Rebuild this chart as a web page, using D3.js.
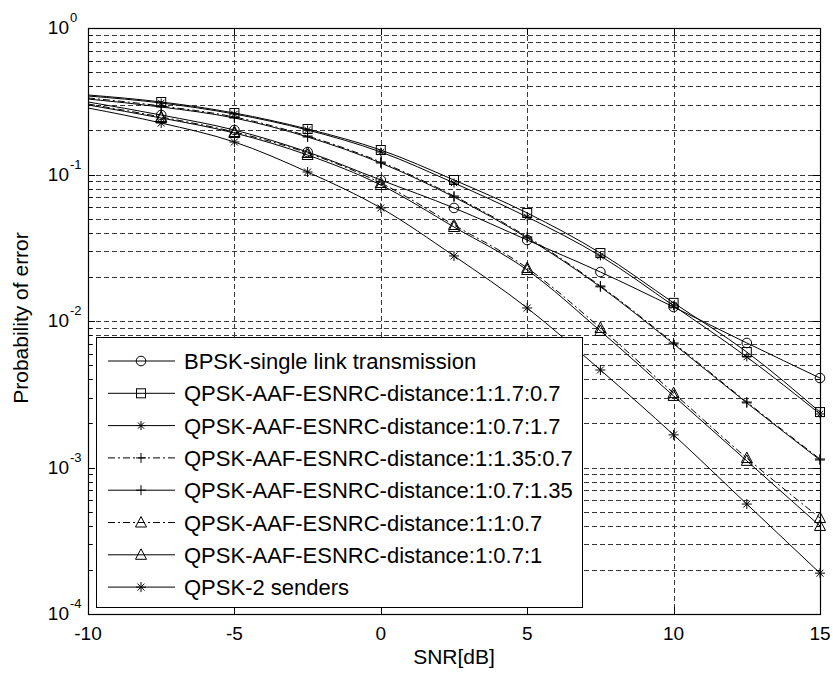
<!DOCTYPE html>
<html><head><meta charset="utf-8">
<script src="https://cdn.jsdelivr.net/npm/d3@7"></script>
<style>body{margin:0;background:#fff}</style>
</head><body><svg id="c" width="833" height="674"></svg>
<script>
// ---- data ----
const snr = [-10, -7.5, -5, -2.5, 0, 2.5, 5, 7.5, 10, 12.5, 15];
const bpskSingle   = [0.3126, 0.2547, 0.2012, 0.1424, 0.0917, 0.0591, 0.0357, 0.0216, 0.01246, 0.00708, 0.00408];
const aaf_1_17_07  = [0.349, 0.3126, 0.2629, 0.2044, 0.147, 0.0917, 0.0546, 0.0291, 0.0133, 0.00614, 0.00239];
const aaf_1_07_17  = [0.3435, 0.3077, 0.2588, 0.2012, 0.1424, 0.0875, 0.0513, 0.0278, 0.0127, 0.00568, 0.00232];
const aaf_1_135_07 = [0.333, 0.2935, 0.2469, 0.1831, 0.1217, 0.0713, 0.0375, 0.01734, 0.00708, 0.0028, 0.001143];
const aaf_1_07_135 = [0.3276, 0.2888, 0.2430, 0.1803, 0.1198, 0.0702, 0.0369, 0.0171, 0.00697, 0.00276, 0.001125];
const aaf_1_1_07   = [0.3029, 0.2469, 0.1950, 0.1402, 0.0875, 0.0452, 0.0230, 0.00896, 0.00322, 0.00116, 0.000452];
const aaf_1_07_1   = [0.2982, 0.2430, 0.1920, 0.1358, 0.0848, 0.0438, 0.0223, 0.00855, 0.00308, 0.00111, 0.000399];
const qpsk2Senders = [0.2844, 0.2246, 0.1667, 0.1040, 0.0591, 0.0278, 0.01227, 0.00463, 0.00167, 0.000563, 0.00019];

const seriesLabels = [
  "BPSK-single link transmission",
  "QPSK-AAF-ESNRC-distance:1:1.7:0.7",
  "QPSK-AAF-ESNRC-distance:1:0.7:1.7",
  "QPSK-AAF-ESNRC-distance:1:1.35:0.7",
  "QPSK-AAF-ESNRC-distance:1:0.7:1.35",
  "QPSK-AAF-ESNRC-distance:1:1:0.7",
  "QPSK-AAF-ESNRC-distance:1:0.7:1",
  "QPSK-2 senders"
];
const seriesValues = [bpskSingle, aaf_1_17_07, aaf_1_07_17, aaf_1_135_07, aaf_1_07_135, aaf_1_1_07, aaf_1_07_1, qpsk2Senders];
const seriesMarkers = ["circle", "square", "asterisk", "plus", "plus", "triangle", "triangle", "star"];
const seriesDash = [null, null, null, "7,3,2,3", null, "7,3,2,3", null, null];

const xTicks = [-10, -5, 0, 5, 10, 15];
const yTickExps = [0, -1, -2, -3, -4];
const xLabel = "SNR[dB]";
const yLabel = "Probability of error";

// ---- layout ----
const L = 88, R = 820, T = 28, B = 614;
const svg = d3.select("#c");
const x = d3.scaleLinear().domain([-10, 15]).range([L, R]);
const y = d3.scaleLog().domain([1e-4, 1]).range([B, T]);
const font = "Liberation Sans, Arial, sans-serif";

// grid
const gridCol = "#3a3a3a";
const minorVals = [];
for (let e = -4; e < 0; e++) for (let d = 1; d <= 9; d++) minorVals.push(d * Math.pow(10, e));
const grid = svg.append("g").attr("stroke", gridCol).attr("stroke-width", 1).attr("stroke-dasharray", "5,3");
grid.selectAll("line.h").data(minorVals.filter(v => v > 1e-4)).enter().append("line")
  .attr("x1", L).attr("x2", R).attr("y1", d => Math.round(y(d)) + 0.5).attr("y2", d => Math.round(y(d)) + 0.5);
grid.selectAll("line.v").data(xTicks.filter(t => t > -10 && t < 15)).enter().append("line")
  .attr("y1", T).attr("y2", B).attr("x1", d => Math.round(x(d)) + 0.5).attr("x2", d => Math.round(x(d)) + 0.5);

// ticks (inward, both sides)
const tk = svg.append("g").attr("stroke", "#000").attr("stroke-width", 1);
minorVals.forEach(v => {
  const yy = Math.round(y(v)) + 0.5;
  const len = (Math.abs(Math.log10(v) - Math.round(Math.log10(v))) < 1e-9) ? 7 : 4;
  tk.append("line").attr("x1", L).attr("x2", L + len).attr("y1", yy).attr("y2", yy);
  tk.append("line").attr("x1", R).attr("x2", R - len).attr("y1", yy).attr("y2", yy);
});
xTicks.forEach(t => {
  const xx = Math.round(x(t)) + 0.5;
  tk.append("line").attr("x1", xx).attr("x2", xx).attr("y1", B).attr("y2", B - 7);
  tk.append("line").attr("x1", xx).attr("x2", xx).attr("y1", T).attr("y2", T + 7);
});

// box
svg.append("rect").attr("x", L + 0.5).attr("y", T + 0.5).attr("width", R - L).attr("height", B - T)
  .attr("fill", "none").attr("stroke", "#000").attr("stroke-width", 1.2);

// tick labels
const xt = svg.append("g").attr("font-family", font).attr("font-size", 19).attr("fill", "#000");
xt.selectAll("text").data(xTicks).enter().append("text")
  .attr("x", d => x(d)).attr("y", 640).attr("text-anchor", "middle").text(d => d);
const yt = svg.append("g").attr("font-family", font).attr("fill", "#000");
yTickExps.forEach(e => {
  const yy = y(Math.pow(10, e));
  yt.append("text").attr("x", 69).attr("y", yy + 6).attr("text-anchor", "end").attr("font-size", 19).text("10");
  yt.append("text").attr("x", 70).attr("y", yy - 6).attr("text-anchor", "start").attr("font-size", 13).text(e);
});

// axis labels
svg.append("text").attr("x", (L + R) / 2).attr("y", 664).attr("text-anchor", "middle")
  .attr("font-family", font).attr("font-size", 21).text(xLabel);
svg.append("text").attr("transform", `translate(28,${(T + B) / 2 - 3}) rotate(-90)`).attr("text-anchor", "middle")
  .attr("font-family", font).attr("font-size", 21).text(yLabel);

// markers
function marker(g, type, cx, cy) {
  const s = g.append("g").attr("stroke", "#000").attr("stroke-width", 1).attr("fill", "none");
  if (type === "circle") s.append("circle").attr("cx", cx).attr("cy", cy).attr("r", 4.8);
  else if (type === "square") s.append("rect").attr("x", cx - 4.5).attr("y", cy - 4.5).attr("width", 9).attr("height", 9);
  else if (type === "triangle") s.append("path").attr("d", `M${cx},${cy - 6}L${cx + 5.5},${cy + 4.5}L${cx - 5.5},${cy + 4.5}Z`);
  else if (type === "plus") s.append("path").attr("d", `M${cx - 5},${cy}H${cx + 5}M${cx},${cy - 5}V${cy + 5}`);
  else if (type === "star" || type === "asterisk") {
    const r = type === "star" ? 5 : 4.5, q = r * 0.7;
    s.append("path").attr("d", `M${cx - r},${cy}H${cx + r}M${cx},${cy - r}V${cy + r}M${cx - q},${cy - q}L${cx + q},${cy + q}M${cx - q},${cy + q}L${cx + q},${cy - q}`);
  }
}

// curves
const line = d3.line().x(d => x(d[0])).y(d => y(d[1])).curve(d3.curveMonotoneX);
const plot = svg.append("g");
seriesValues.forEach((vals, i) => {
  const pts = snr.map((s, k) => [s, vals[k]]);
  plot.append("path").attr("d", line(pts)).attr("fill", "none").attr("stroke", "#000")
    .attr("stroke-width", 1).attr("stroke-dasharray", seriesDash[i]);
  pts.forEach((p, k) => { if (k > 0) marker(plot, seriesMarkers[i], x(p[0]), y(p[1])); });
});

// legend
const lg = svg.append("g");
lg.append("rect").attr("x", 96.5).attr("y", 337.5).attr("width", 486).attr("height", 270)
  .attr("fill", "#fff").attr("stroke", "#000").attr("stroke-width", 1);
seriesLabels.forEach((lab, i) => {
  const yy = 361 + i * 32.3;
  lg.append("line").attr("x1", 108).attr("x2", 175).attr("y1", yy).attr("y2", yy)
    .attr("stroke", "#000").attr("stroke-width", 1).attr("stroke-dasharray", seriesDash[i]);
  marker(lg, seriesMarkers[i], 141, yy);
  lg.append("text").attr("x", 184).attr("y", yy + 8).attr("font-family", font).attr("font-size", 22).text(lab);
});
</script>
</body></html>
